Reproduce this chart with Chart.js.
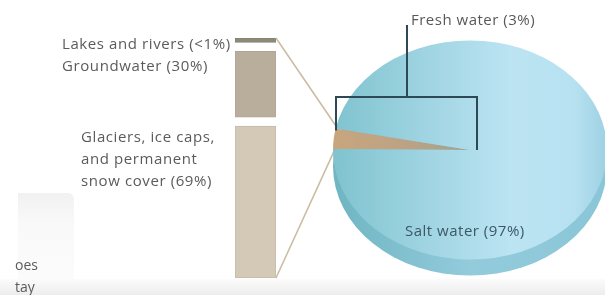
<!DOCTYPE html>
<html><head><meta charset="utf-8">
<script src="https://cdn.jsdelivr.net/npm/chart.js@4"></script>
<style>
html,body{margin:0;padding:0;width:605px;height:295px;overflow:hidden;background:#fff;}
#wrap{position:relative;width:605px;height:295px;overflow:hidden;font-family:"Open Sans",sans-serif;}
.bg{position:absolute;}
#band{left:0;top:279px;width:605px;height:16px;background:linear-gradient(to bottom,#fbfbfb,#ededed);}
#cup{left:18px;top:193px;width:56px;height:102px;background:linear-gradient(to bottom,#f1f1f1,#f9f9f9 30%,#fcfcfc);border-top-right-radius:6px;}
canvas{position:absolute;left:0;top:0;}
.lbl{position:absolute;white-space:pre;color:#5b5b5b;font-size:15px;letter-spacing:0.6px;line-height:22px;}
</style></head>
<body><div id="wrap">
<div class="bg" id="cup"></div>
<div class="bg" id="band"></div>
<canvas id="bar" width="605" height="295"></canvas>
<canvas id="pie" width="640" height="295"></canvas>
</div>
<script>
// ---- data ----
const freshCategories = ['Lakes and rivers', 'Groundwater', 'Glaciers, ice caps, and permanent snow cover'];
const freshShares = [1, 30, 69];            // % of fresh water
const freshLabels = ['Lakes and rivers (<1%)', 'Groundwater (30%)', 'Glaciers, ice caps,\nand permanent\nsnow cover (69%)'];
const waterCategories = ['Fresh water', 'Salt water'];
const waterShares = [3, 97];                // % of all water
const waterLabels = ['Fresh water (3%)', 'Salt water (97%)'];
const cutTextLines = ['oes', 'tay'];

// ---- styles / layout ----
const barColors = ['#8d8b77', '#b9ae9b', '#d4c9b7'];
const barBorders = ['#84826f', '#b0a592', '#c4baa8'];
const GAP = 4;          // visual gap between stacked segments (value units)
const MIN_VIS = 2;      // minimum drawn segment height (value units)
const K = 0.80;         // ellipse vertical squash of the pie
const SIDE = 16;        // 3D rim thickness
const wrap = document.getElementById('wrap');

function addLabel(text, left, top, color, extra) {
  const d = document.createElement('div');
  d.className = 'lbl';
  d.textContent = text;
  d.style.left = left + 'px';
  d.style.top = top + 'px';
  if (color) d.style.color = color;
  if (extra) Object.assign(d.style, extra);
  wrap.appendChild(d);
}
addLabel(freshLabels[0], 62, 32);
addLabel(freshLabels[1], 62, 54);
addLabel(freshLabels[2], 81, 125);
addLabel(waterLabels[0], 411, 8, '#585858', {letterSpacing:'0.5px'});
addLabel(waterLabels[1], 405, 219, '#3b5866', {letterSpacing:'0.5px'});
addLabel(cutTextLines.join('\n'), 15, 254, '#5b5b5b', {fontSize:'14px', letterSpacing:'0px'});

// ---- stacked fresh-water column (floating segments) ----
const floating = [];
let acc = 0;
for (let i = freshShares.length - 1; i >= 0; i--) {
  const h = Math.max(freshShares[i], MIN_VIS);
  floating[i] = [acc, acc + h];
  acc += h + GAP;
}
const colTop = acc - GAP;

const barChart = new Chart(document.getElementById('bar'), {
  type: 'bar',
  data: {
    labels: ['Fresh water'],
    datasets: freshCategories.map((c, i) => ({
      label: c,
      data: [floating[i]],
      backgroundColor: barColors[i],
      borderColor: barBorders[i],
      borderWidth: 1,
      borderSkipped: false,
      grouped: false,
      barPercentage: 1,
      categoryPercentage: 1
    }))
  },
  options: {
    responsive: false,
    animation: false,
    layout: { padding: { left: 235, right: 329, top: 38, bottom: 17 } },
    scales: {
      x: { display: false },
      y: { display: false, min: 0, max: colTop }
    },
    plugins: { legend: { display: false }, tooltip: { enabled: false } }
  }
});

// ---- pie ----
function saltFill(chart) {
  const a = chart.chartArea;
  if (!a) return '#a6d9e8';
  const g = chart.ctx.createLinearGradient(a.left, 0, a.right, 0);
  g.addColorStop(0, '#7fc3ce');
  g.addColorStop(0.3, '#9cd2e0');
  g.addColorStop(0.65, '#bce4f3');
  g.addColorStop(0.88, '#b7e1f1');
  g.addColorStop(1, '#9dd1e2');
  return g;
}
function freshFill(chart) {
  const a = chart.chartArea;
  if (!a) return '#c2a482';
  const g = chart.ctx.createLinearGradient(a.left, 0, (a.left + a.right) / 2, 0);
  g.addColorStop(0, '#c8a57e');
  g.addColorStop(0.6, '#bba284');
  g.addColorStop(1, '#98a592');
  return g;
}

const piePlugin = {
  id: 'ellipsePie',
  beforeDatasetsDraw(chart) {
    const ctx = chart.ctx;
    const arc = chart.getDatasetMeta(0).data[0];
    const x = arc.x, y = arc.y, r = arc.outerRadius;
    // connectors from column to fresh-water wedge
    const bm0 = barChart.getDatasetMeta(0).data[0];
    const bm2 = barChart.getDatasetMeta(2).data[0];
    const bx = bm0.x + bm0.width / 2;
    const topY = Math.min(bm0.y, bm0.base);
    const botY = Math.max(bm2.y, bm2.base);
    const pUp = [x + r * Math.cos(arc.endAngle), y + K * r * Math.sin(arc.endAngle)];
    const pLo = [x + r * Math.cos(arc.startAngle), y + K * r * Math.sin(arc.startAngle)];
    ctx.save();
    ctx.strokeStyle = '#cbbda4';
    ctx.lineWidth = 1.6;
    ctx.beginPath();
    ctx.moveTo(bx, topY); ctx.lineTo(pUp[0] + 2, pUp[1]);
    ctx.moveTo(bx, botY); ctx.lineTo(pLo[0] + 2, pLo[1]);
    ctx.stroke();
    ctx.restore();
    // 3D rim
    ctx.save();
    ctx.translate(x, y + SIDE);
    ctx.scale(1, K);
    const g = ctx.createLinearGradient(-r, 0, r, 0);
    g.addColorStop(0, '#6fb5c2');
    g.addColorStop(0.5, '#93cbdb');
    g.addColorStop(1, '#8ac6d8');
    ctx.fillStyle = g;
    ctx.beginPath(); ctx.arc(0, 0, r, 0, Math.PI * 2); ctx.fill();
    ctx.restore();
    // squash the pie into an ellipse
    ctx.save();
    ctx.translate(x, y); ctx.scale(1, K); ctx.translate(-x, -y);
  },
  afterDatasetsDraw(chart) {
    const ctx = chart.ctx;
    ctx.restore();
    const arc = chart.getDatasetMeta(0).data[0];
    const x = arc.x, y = arc.y, r = arc.outerRadius;
    const left = x - r + 3, right = x + 7, topB = 97, stemX = 407, stemTop = 25;
    const leftBottom = y + K * r * Math.sin(arc.endAngle) + 2;
    ctx.save();
    ctx.strokeStyle = '#2d4955';
    ctx.lineWidth = 2;
    ctx.beginPath();
    ctx.moveTo(left, leftBottom); ctx.lineTo(left, topB); ctx.lineTo(right, topB); ctx.lineTo(right, y);
    ctx.moveTo(stemX, topB); ctx.lineTo(stemX, stemTop);
    ctx.stroke();
    ctx.restore();
  }
};

new Chart(document.getElementById('pie'), {
  type: 'pie',
  data: {
    labels: waterCategories,
    datasets: [{
      data: waterShares,
      backgroundColor: (c) => c.dataIndex === 0 ? freshFill(c.chart) : saltFill(c.chart),
      borderWidth: 0
    }]
  },
  options: {
    responsive: false,
    animation: false,
    rotation: 270.5,
    layout: { padding: { left: 333, right: 33, top: 13, bottom: 8 } },
    plugins: { legend: { display: false }, tooltip: { enabled: false } }
  },
  plugins: [piePlugin]
});
</script>
</body></html>
